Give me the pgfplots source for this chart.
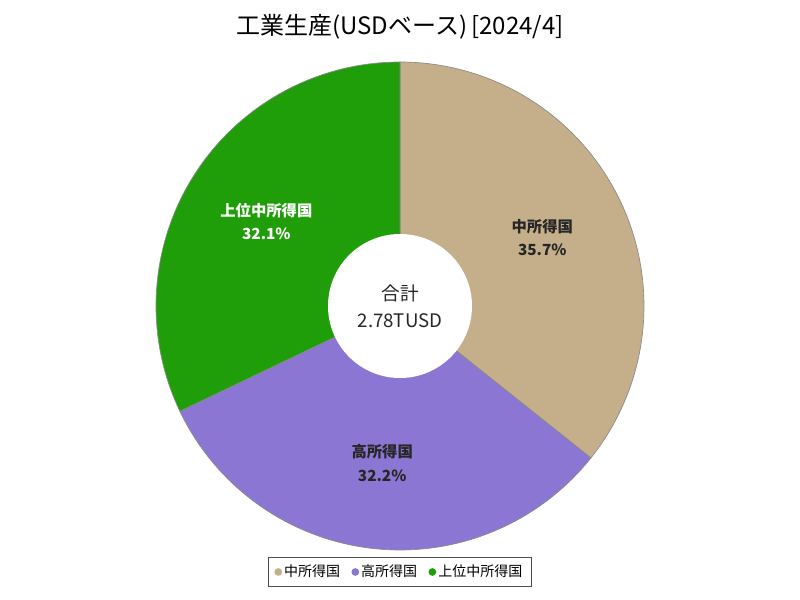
\documentclass[border=0pt]{standalone}
\usepackage{fontspec}
\setmainfont{Noto Sans CJK JP}
\usepackage{pgfplots}
\usepackage{pgfplotstable}
\pgfplotsset{compat=1.18}
\definecolor{cA}{HTML}{C4AF8A}
\definecolor{cB}{HTML}{8B77D3}
\definecolor{cC}{HTML}{1F9E0A}
\definecolor{bd}{HTML}{8A8A8A}
\pgfplotstableread{
value
35.7
32.2
32.1
}\shares
\pgfplotstablegetelem{0}{value}\of\shares \let\va\pgfplotsretval
\pgfplotstablegetelem{1}{value}\of\shares \let\vb\pgfplotsretval
\pgfplotstablegetelem{2}{value}\of\shares \let\vc\pgfplotsretval
\pgfmathsetmacro\aone{90-3.6*\va}
\pgfmathsetmacro\atwo{\aone-3.6*\vb}
\pgfmathsetmacro\athree{\atwo-3.6*\vc}
\pgfmathsetmacro\ma{(90+\aone)/2}
\pgfmathsetmacro\mb{(\aone+\atwo)/2}
\pgfmathsetmacro\mc{(\atwo+\athree)/2}
\begin{document}
\begin{tikzpicture}
\begin{axis}[
  width=600pt, height=450pt, scale only axis,
  xmin=0, xmax=800, ymin=0, ymax=600,
  axis line style={draw=none}, ticks=none, clip=false,
  legend columns=3,
  legend style={at={(0.5,0.0467)}, anchor=center, draw=black!70, line width=0.9pt,
    font=\fontsize{10.5}{12}\selectfont, inner xsep=5pt, inner ysep=3.5pt,
    /tikz/every even column/.append style={column sep=7pt}},
  legend cell align=left,
]
\addplot[fill=cA, draw=bd, line width=0.5pt, domain=\aone:90, samples=150, forget plot]
  ({400+244*cos(x)},{294+244*sin(x)}) -- (axis cs:400,294) -- cycle;
\addplot[fill=cB, draw=bd, line width=0.5pt, domain=\atwo:\aone, samples=150, forget plot]
  ({400+244*cos(x)},{294+244*sin(x)}) -- (axis cs:400,294) -- cycle;
\addplot[fill=cC, draw=bd, line width=0.5pt, domain=\athree:\atwo, samples=150, forget plot]
  ({400+244*cos(x)},{294+244*sin(x)}) -- (axis cs:400,294) -- cycle;
\addplot[fill=white, draw=none, domain=0:360, samples=180, forget plot]
  ({400+72*cos(x)},{294+72*sin(x)}) -- cycle;
\addlegendimage{only marks, mark=*, mark size=2.4pt, color=cA}
\addlegendentry{中所得国}
\addlegendimage{only marks, mark=*, mark size=2.4pt, color=cB}
\addlegendentry{高所得国}
\addlegendimage{only marks, mark=*, mark size=2.4pt, color=cC}
\addlegendentry{上位中所得国}
\node[font=\fontsize{18}{21}\selectfont] at (axis cs:400,573) {工業生産(USDベース)\,[2024/4]};
\node[font=\fontsize{14}{18}\selectfont, align=center, text=black!85] at (axis cs:400,294) {合計\\[2pt]2.78TUSD};
\node[font=\bfseries\fontsize{11.5}{17.5}\selectfont, align=center, text=black!85] at (axis cs:{400+158*cos(\ma)},{294+158*sin(\ma)}) {中所得国\\35.7\%};
\node[font=\bfseries\fontsize{11.5}{17.5}\selectfont, align=center, text=black!85] at (axis cs:{400+158*cos(\mb)},{294+158*sin(\mb)}) {高所得国\\32.2\%};
\node[font=\bfseries\fontsize{11.5}{17.5}\selectfont, align=center, text=white] at (axis cs:{400+158*cos(\mc)},{294+158*sin(\mc)}) {上位中所得国\\32.1\%};
\end{axis}
\end{tikzpicture}
\end{document}
